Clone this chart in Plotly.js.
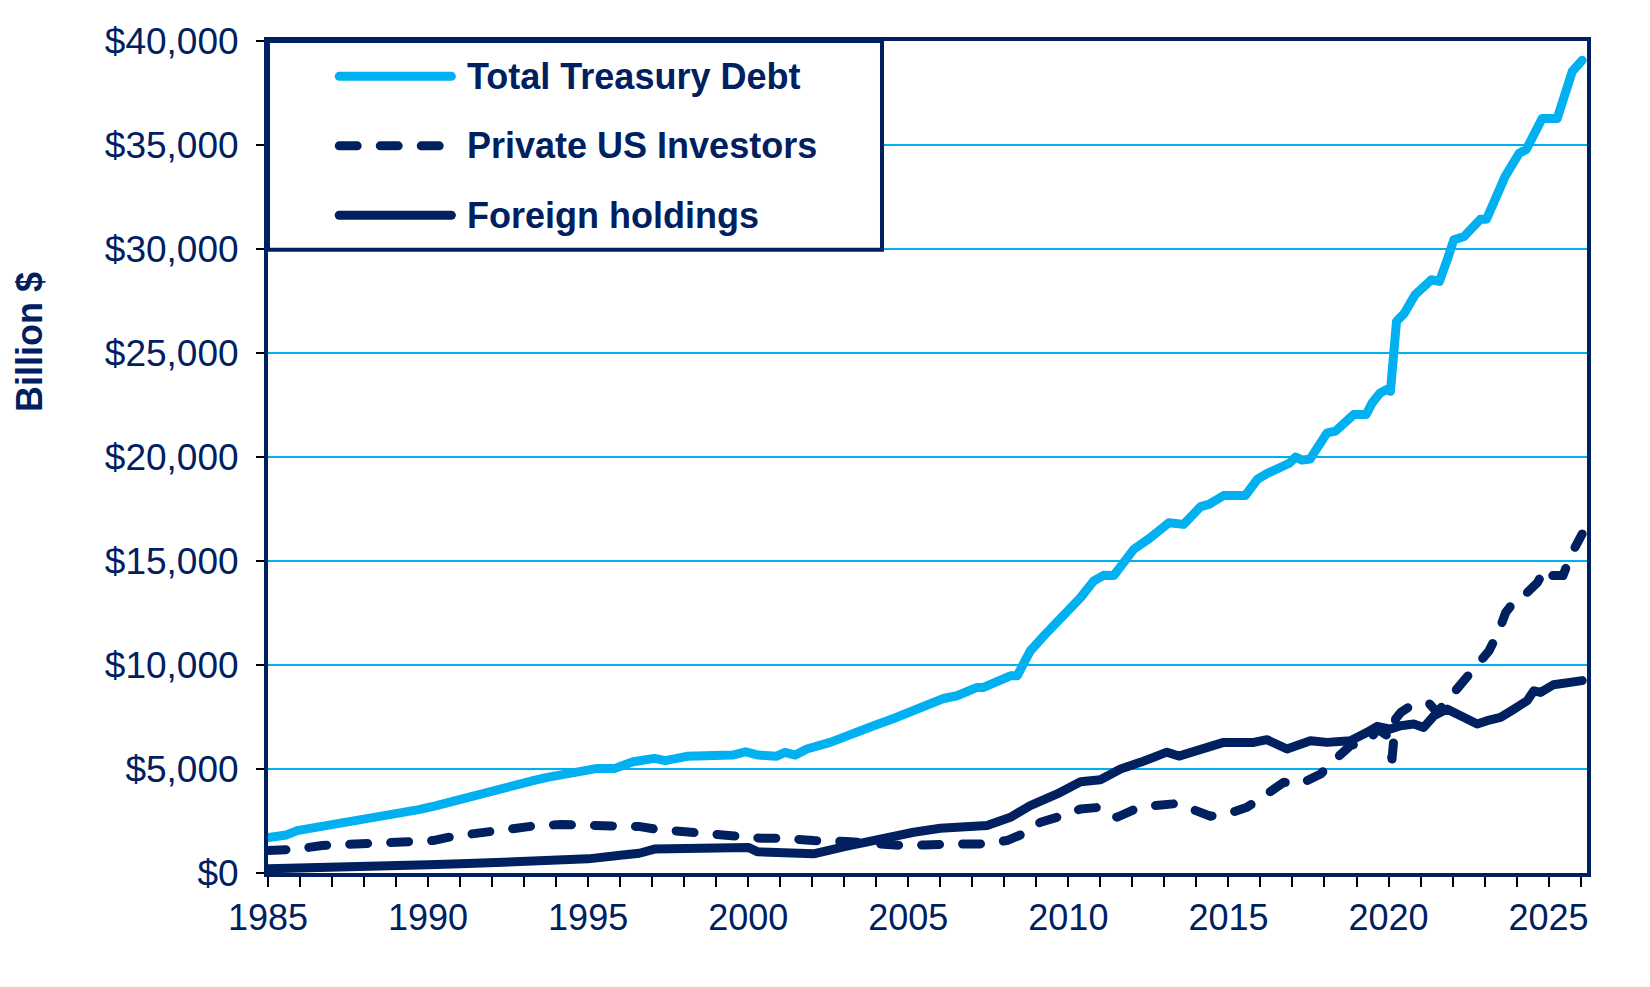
<!DOCTYPE html>
<html>
<head>
<meta charset="utf-8">
<script src="https://cdn.plot.ly/plotly-3.0.1.min.js"></script>
<style>
  body { margin: 0; background: #fff; }
  .js-line { stroke-linecap: round; stroke-linejoin: round; }
  .shapelayer path { stroke-linecap: round; }
</style>
</head>
<body>
<div id="chart" style="width:1650px;height:987px;"></div>
<script>
'use strict';
/* Total Treasury Debt, billion $ */
var totalYears = [1985.0, 1985.58, 1985.91, 1986.36, 1986.92, 1987.47, 1988.03, 1988.59, 1989.15, 1989.71,
  1990.26, 1990.82, 1991.27, 1991.94, 1992.5, 1993.28, 1993.72, 1994.17, 1994.73, 1995.29,
  1995.84, 1996.4, 1997.07, 1997.41, 1998.08, 1998.63, 1999.52, 1999.92, 2000.31, 2000.87,
  2001.15, 2001.47, 2001.83, 2002.56, 2002.93, 2003.08, 2003.92, 2004.54, 2004.96, 2005.58,
  2006.1, 2006.52, 2007.15, 2007.35, 2007.88, 2008.19, 2008.4, 2008.81, 2009.33, 2009.85,
  2010.38, 2010.79, 2011.1, 2011.42, 2012.04, 2012.56, 2013.14, 2013.6, 2014.13, 2014.39,
  2014.85, 2015.53, 2015.9, 2016.2, 2016.5, 2016.9, 2017.1, 2017.3, 2017.55, 2017.7,
  2017.95, 2018.08, 2018.34, 2018.79, 2018.91, 2019.3, 2019.49, 2019.74, 2019.93, 2020.06,
  2020.25, 2020.5, 2020.83, 2021.34, 2021.59, 2021.85, 2022.04, 2022.36, 2022.68, 2022.87,
  2023.06, 2023.38, 2023.64, 2023.89, 2024.08, 2024.3, 2024.54, 2024.8, 2025.27, 2025.53,
  2025.74, 2026.05];
var totalDebt = [1700, 1830, 2040, 2150, 2330, 2440, 2600, 2730, 2890, 3050,
  3240, 3480, 3590, 3960, 4200, 4440, 4600, 4710, 4870, 5030,
  5030, 5350, 5510, 5400, 5610, 5670, 5670, 5830, 5670, 5610,
  5800, 5670, 5960, 6280, 6520, 6520, 7080, 7430, 7720, 8040,
  8390, 8520, 8920, 8920, 9320, 9480, 9480, 10680, 11560, 12360,
  13240, 14040, 14310, 14300, 15560, 16120, 16840, 16760, 17610, 17720,
  18150, 18150, 18920, 19200, 19400, 19700, 20000, 19850, 19900, 20300,
  21000, 21160, 21240, 21960, 22040, 22040, 22600, 23080, 23240, 23160,
  26520, 26920, 27800, 28520, 28440, 29560, 30440, 30600, 31080, 31430,
  31430, 32600, 33480, 34120, 34600, 34780, 35500, 36280, 36280, 37650,
  38540, 39070];

/* Private US Investors, billion $ */
var privateYears = [1985.0, 1985.8, 1986.69, 1987.58, 1988.37, 1989.26, 1990.15, 1990.82, 1991.38, 1992.16,
  1992.83, 1993.39, 1994.17, 1994.84, 1995.62, 1996.07, 1996.62, 1997.18, 1997.85, 1998.52,
  1999.3, 1999.75, 2000.42, 2001.09, 2001.63, 2002.04, 2003.08, 2004.44, 2004.85, 2005.48,
  2005.9, 2006.73, 2007.35, 2008.08, 2008.5, 2009.13, 2009.65, 2010.38, 2011.0, 2011.52,
  2012.04, 2012.67, 2013.4, 2013.92, 2014.44, 2015.17, 2015.58, 2016.2, 2016.73, 2017.25,
  2017.88, 2018.29, 2018.81, 2019.44, 2019.65, 2019.96, 2020.11, 2020.22, 2020.38, 2020.69,
  2021.26, 2021.52, 2021.94, 2022.35, 2022.77, 2023.14, 2023.45, 2023.66, 2024.02, 2024.33,
  2024.65, 2024.9, 2025.1, 2025.45, 2025.7, 2026.05];
var privateUS = [1080, 1130, 1320, 1400, 1400, 1450, 1560, 1770, 1880, 2070,
  2230, 2280, 2330, 2330, 2280, 2310, 2230, 2090, 1990, 1880,
  1800, 1670, 1670, 1670, 1560, 1560, 1510, 1290, 1320, 1350,
  1400, 1400, 1400, 1560, 1830, 2440, 2680, 3080, 3160, 2680,
  3040, 3240, 3340, 3000, 2730, 2950, 3160, 3800, 4360, 4280,
  4760, 5400, 6120, 6440, 6920, 6600, 5480, 7400, 7720, 8040,
  8170, 7720, 8520, 9240, 10120, 10680, 11640, 12520, 13240, 13480,
  13960, 14650, 14300, 14300, 15300, 16300];

/* Foreign holdings, billion $ */
var foreignYears = [1985.0, 1986.0, 1987.0, 1988.0, 1989.0, 1990.0, 1991.0, 1992.0, 1993.0, 1994.0,
  1995.0, 1996.0, 1996.6, 1997.07, 1998.0, 1999.0, 1999.7, 2000.0, 2000.3, 2001.0,
  2002.04, 2003.08, 2003.71, 2004.44, 2005.17, 2006.0, 2006.63, 2007.46, 2008.19, 2008.81,
  2009.65, 2010.38, 2011.0, 2011.63, 2012.25, 2013.08, 2013.45, 2014.13, 2014.85, 2015.79,
  2016.2, 2016.83, 2017.56, 2018.08, 2018.81, 2019.33, 2019.65, 2020.06, 2020.38, 2020.79,
  2021.1, 2021.42, 2021.83, 2022.25, 2022.77, 2023.08, 2023.5, 2023.92, 2024.33, 2024.54,
  2024.75, 2025.15, 2025.5, 2025.8, 2026.05];
var foreignHold = [200, 220, 250, 290, 330, 400, 440, 480, 560, 620,
  680, 850, 950, 1150, 1200, 1230, 1250, 1230, 1020, 1000,
  920, 1290, 1480, 1800, 1960, 2150, 2230, 2280, 2680, 3240,
  3800, 4390, 4480, 5000, 5320, 5810, 5620, 5990, 6280, 6280,
  6410, 5960, 6360, 6280, 6360, 6760, 7050, 6920, 7080, 7160,
  7000, 7560, 7880, 7560, 7160, 7320, 7480, 7880, 8280, 8760,
  8680, 9050, 9150, 9250, 9250];

var seriesNames = ['Total Treasury Debt', 'Private US Investors', 'Foreign holdings'];

var lightBlue = '#00B0F0';
var navy = '#002060';
var fontFam = 'Liberation Sans, Arial, Helvetica, sans-serif';
var dashPat = '18px,23px';

var data = [
{
  x: totalYears,
  y: totalDebt,
  name: seriesNames[0],
  type: 'scatter',
  mode: 'lines',
  line: { color: lightBlue, width: 9 },
  hoverinfo: 'x+y'
},
{
  x: privateYears,
  y: privateUS,
  name: seriesNames[1],
  type: 'scatter',
  mode: 'lines',
  line: { color: navy, width: 9, dash: dashPat },
  hoverinfo: 'x+y'
},
{
  x: foreignYears,
  y: foreignHold,
  name: seriesNames[2],
  type: 'scatter',
  mode: 'lines',
  line: { color: navy, width: 9 },
  hoverinfo: 'x+y'
}];

/* hand-drawn legend box, like the original */
var legRows = [0.9575, 0.874, 0.7905];
var legStyles = [
  { color: lightBlue, width: 9 },
  { color: navy, width: 9, dash: dashPat },
  { color: navy, width: 9 }
];
var shapes = [{
  type: 'rect', xref: 'paper', yref: 'paper',
  x0: 0, x1: 0.4655, y0: 0.749, y1: 1,
  fillcolor: '#ffffff', line: { color: navy, width: 4 }, layer: 'above'
}];
var annotations = [];
for (var i = 0; i < seriesNames.length; i++) {
  shapes.push({
    type: 'line', xref: 'paper', yref: 'paper',
    x0: 0.054, x1: 0.139, y0: legRows[i], y1: legRows[i],
    line: legStyles[i], layer: 'above'
  });
  annotations.push({
    xref: 'paper', yref: 'paper', x: 0.1494, y: legRows[i],
    xanchor: 'left', yanchor: 'middle', showarrow: false,
    text: '<b>' + seriesNames[i] + '</b>',
    font: { family: fontFam, size: 36, color: navy }
  });
}
annotations.push({
  xref: 'paper', yref: 'paper', x: -0.181, y: 0.6386,
  xanchor: 'center', yanchor: 'middle', showarrow: false, textangle: -90,
  text: '<b>Billion $</b>',
  font: { family: fontFam, size: 36, color: navy }
});

var layout = {
  width: 1650,
  height: 987,
  margin: { l: 268, r: 63, t: 41, b: 114 },
  paper_bgcolor: '#ffffff',
  plot_bgcolor: '#ffffff',
  showlegend: false,
  font: { family: fontFam, size: 36, color: navy },
  xaxis: {
    range: [1985, 2026.2],
    tick0: 1985,
    dtick: 5,
    ticks: 'outside',
    ticklen: 10,
    tickwidth: 1.5,
    tickcolor: '#000000',
    ticklabelstandoff: 0,
    tickfont: { family: fontFam, size: 36, color: navy },
    minor: { tick0: 1985, dtick: 1, ticks: 'outside', ticklen: 10, tickwidth: 1.5, tickcolor: '#000000', showgrid: false },
    showline: true,
    linecolor: navy,
    linewidth: 4,
    mirror: true,
    showgrid: false,
    zeroline: false
  },
  yaxis: {
    range: [0, 40000],
    tick0: 0,
    dtick: 5000,
    tickprefix: '$',
    tickformat: ',d',
    ticks: 'outside',
    ticklen: 8,
    tickwidth: 1.5,
    tickcolor: '#000000',
    ticklabelstandoff: 10,
    tickfont: { family: fontFam, size: 37, color: navy },
    showline: true,
    linecolor: navy,
    linewidth: 4,
    mirror: true,
    showgrid: true,
    gridcolor: lightBlue,
    gridwidth: 2,
    zeroline: false
  },
  shapes: shapes,
  annotations: annotations
};

Plotly.newPlot('chart', data, layout, { displayModeBar: false, responsive: false });
</script>
</body>
</html>
